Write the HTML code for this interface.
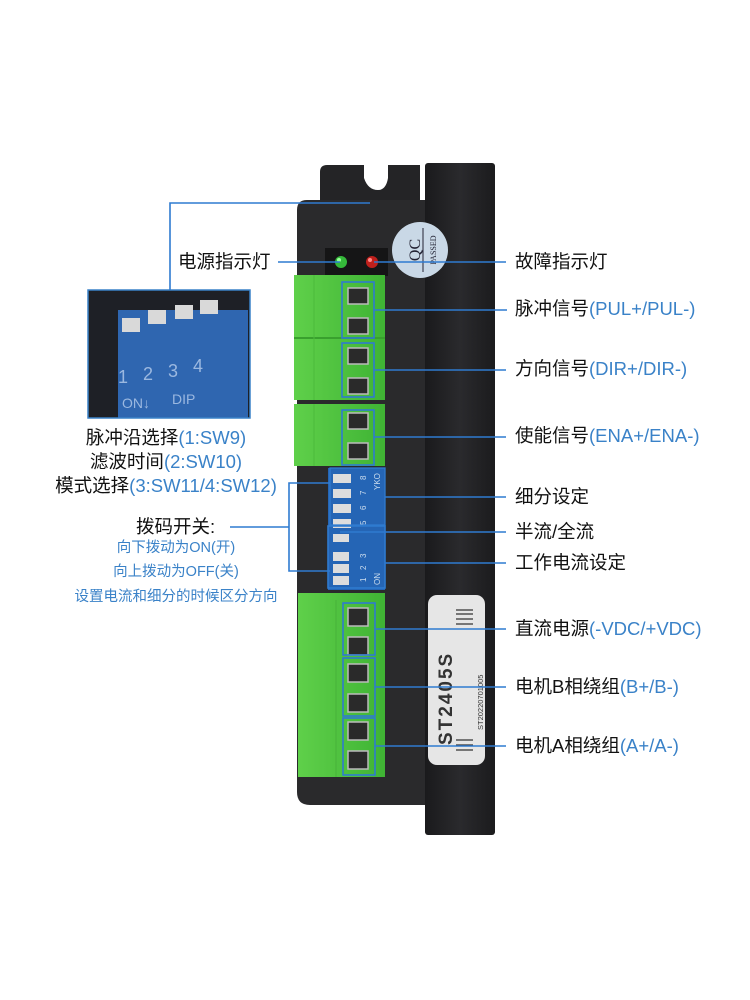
<!DOCTYPE html>
<html><head><meta charset="utf-8"><style>
body{margin:0;width:750px;height:1000px;background:#fff;position:relative;overflow:hidden;font-family:"Liberation Sans","Noto Sans CJK SC",sans-serif;}
.t{position:absolute;font-size:18.5px;color:#111;white-space:nowrap;line-height:22px;}
.c{position:absolute;width:300px;text-align:center;font-size:18.5px;color:#111;white-space:nowrap;line-height:22px;}
.b{color:#3a82c8;}
.s{position:absolute;width:300px;text-align:center;font-size:14.5px;color:#3a82c8;white-space:nowrap;line-height:18px;}
</style></head><body>
<svg width="750" height="1000" style="position:absolute;left:0;top:0">
<defs>
<linearGradient id="side" x1="0" x2="1"><stop offset="0" stop-color="#1a1a1c"/><stop offset="0.5" stop-color="#2a2a2d"/><stop offset="1" stop-color="#1b1b1d"/></linearGradient>
<linearGradient id="grn" x1="0" x2="1"><stop offset="0" stop-color="#5fd04a"/><stop offset="1" stop-color="#3fb334"/></linearGradient>
</defs>
<rect x="425" y="163" width="70" height="672" rx="3" fill="url(#side)"/>
<path d="M320 200 V172 Q320 165 327 165 H364 V178 Q368 190 378 190 Q386 190 388 178 V165 H420 V200 Z" fill="#242426"/>
<path d="M297 210 Q297 200 307 200 H425 V805 H310 Q297 805 297 792 Z" fill="#2a2a2c"/>
<rect x="325" y="248" width="63" height="28" fill="#151516"/>
<circle cx="341" cy="262" r="6" fill="#35b93a"/><circle cx="339" cy="260" r="2" fill="#9f9"/>
<circle cx="372" cy="262" r="6" fill="#c0201c"/><circle cx="370" cy="260" r="2" fill="#f88"/>
<circle cx="420" cy="250" r="28" fill="#c9d8e6"/>
<text transform="translate(420,250) rotate(-90)" font-family="Liberation Serif,serif" font-size="16" text-anchor="middle" fill="#223">QC</text>
<line x1="423" y1="228" x2="423" y2="272" stroke="#223" stroke-width="1"/>
<text transform="translate(436,250) rotate(-90)" font-family="Liberation Serif,serif" font-size="8" text-anchor="middle" fill="#223">PASSED</text>
<rect x="294" y="275" width="91" height="125" fill="url(#grn)"/>
<line x1="294" y1="338" x2="385" y2="338" stroke="#39a02e" stroke-width="2"/>
<line x1="314" y1="275" x2="314" y2="400" stroke="#4bbb3c"/>
<rect x="294" y="404" width="91" height="62" fill="url(#grn)"/>
<line x1="314" y1="404" x2="314" y2="466" stroke="#4bbb3c"/>
<rect x="298" y="593" width="87" height="184" fill="url(#grn)"/>
<line x1="336" y1="600" x2="336" y2="777" stroke="#46b23a"/>
<g fill="#2a2a2a" stroke="#bbb" stroke-width="1.5">
<rect x="348" y="288" width="20" height="16"/><rect x="348" y="318" width="20" height="16"/>
<rect x="348" y="348" width="20" height="16"/><rect x="348" y="378" width="20" height="16"/>
<rect x="348" y="413" width="20" height="16"/><rect x="348" y="443" width="20" height="16"/>
<rect x="348" y="608" width="20" height="18"/><rect x="348" y="637" width="20" height="18"/>
<rect x="348" y="664" width="20" height="18"/><rect x="348" y="694" width="20" height="18"/>
<rect x="348" y="722" width="20" height="18"/><rect x="348" y="751" width="20" height="18"/>
</g>
<rect x="328" y="468" width="57" height="122" fill="#2565b5"/>
<g fill="#ddd"><rect x="333" y="474" width="18" height="9"/><rect x="333" y="489" width="18" height="9"/><rect x="333" y="504" width="18" height="9"/><rect x="333" y="519" width="18" height="9"/><rect x="333" y="534" width="16" height="8"/><rect x="333" y="552" width="16" height="9"/><rect x="333" y="564" width="16" height="9"/><rect x="333" y="576" width="16" height="9"/></g>
<g font-size="8" fill="#cde" font-family="Liberation Sans"><text transform="translate(366,480) rotate(-90)">8</text><text transform="translate(366,495) rotate(-90)">7</text><text transform="translate(366,510) rotate(-90)">6</text><text transform="translate(366,525) rotate(-90)">5</text><text transform="translate(366,558) rotate(-90)">3</text><text transform="translate(366,570) rotate(-90)">2</text><text transform="translate(366,582) rotate(-90)">1</text><text transform="translate(380,490) rotate(-90)">YKO</text><text transform="translate(380,585) rotate(-90)">ON</text></g>
<rect x="428" y="595" width="57" height="170" rx="9" fill="#e6e6e6"/>
<text transform="translate(452,745) rotate(-90)" font-size="19" font-weight="bold" fill="#333" font-family="Liberation Sans" letter-spacing="2">ST2405S</text>
<g stroke="#333" stroke-width="1.3"><line x1="456" y1="610" x2="473" y2="610"/><line x1="456" y1="614" x2="473" y2="614"/><line x1="456" y1="619" x2="473" y2="619"/><line x1="456" y1="624" x2="473" y2="624"/><line x1="456" y1="740" x2="473" y2="740"/><line x1="456" y1="745" x2="473" y2="745"/><line x1="456" y1="750" x2="473" y2="750"/></g>
<text transform="translate(483,730) rotate(-90)" font-size="7.5" fill="#333" font-family="Liberation Sans">ST20220701005</text>
<rect x="88" y="290" width="162" height="128" fill="#1e2026"/>
<rect x="118" y="310" width="130" height="108" fill="#2f66b0"/>
<g fill="#d9d9d9"><rect x="122" y="318" width="18" height="14"/><rect x="148" y="310" width="18" height="14"/><rect x="175" y="305" width="18" height="14"/><rect x="200" y="300" width="18" height="14"/></g>
<g font-size="18" fill="#9bb8e0" font-family="Liberation Sans"><text x="118" y="383">1</text><text x="143" y="380">2</text><text x="168" y="377">3</text><text x="193" y="372">4</text><text x="122" y="408" font-size="14">ON↓</text><text x="172" y="404" font-size="14">DIP</text></g>
<rect x="88" y="290" width="162" height="128" fill="none" stroke="#3a82c8" stroke-width="1.5"/>
<g stroke="#2f7bd0" stroke-width="1.6" fill="none">
<polyline points="170,290 170,203 370,203"/>
<line x1="278" y1="262" x2="340" y2="262"/>
<line x1="374" y1="262" x2="506" y2="262"/>
<rect x="342" y="282" width="32" height="56"/><rect x="342" y="343" width="32" height="54"/>
<rect x="342" y="410" width="32" height="55"/>
<rect x="343" y="603" width="32" height="52"/><rect x="343" y="658" width="32" height="58"/><rect x="343" y="718" width="32" height="57"/>
<rect x="330" y="468" width="55" height="57" stroke-width="1.3"/>
<rect x="328" y="526" width="57" height="62"/>
<line x1="374" y1="310" x2="507" y2="310"/>
<line x1="374" y1="370" x2="506" y2="370"/>
<line x1="374" y1="437" x2="506" y2="437"/>
<line x1="385" y1="497" x2="506" y2="497"/>
<line x1="340" y1="532" x2="506" y2="532"/>
<line x1="385" y1="563" x2="506" y2="563"/>
<line x1="375" y1="629" x2="506" y2="629"/>
<line x1="375" y1="687" x2="506" y2="687"/>
<line x1="375" y1="746" x2="506" y2="746"/>
<polyline points="330,483 289,483 289,571 330,571"/>
<line x1="230" y1="527" x2="289" y2="527"/>
</g>
</svg>
<div class="t" style="left:178px;top:251px">电源指示灯</div>
<div class="t" style="left:515px;top:251px">故障指示灯</div>
<div class="t" style="left:515px;top:298px">脉冲信号<span class="b">(PUL+/PUL-)</span></div>
<div class="t" style="left:515px;top:358px">方向信号<span class="b">(DIR+/DIR-)</span></div>
<div class="t" style="left:515px;top:425px">使能信号<span class="b">(ENA+/ENA-)</span></div>
<div class="t" style="left:515px;top:486px">细分设定</div>
<div class="t" style="left:515px;top:521px">半流/全流</div>
<div class="t" style="left:515px;top:552px">工作电流设定</div>
<div class="t" style="left:515px;top:618px">直流电源<span class="b">(-VDC/+VDC)</span></div>
<div class="t" style="left:515px;top:676px">电机B相绕组<span class="b">(B+/B-)</span></div>
<div class="t" style="left:515px;top:735px">电机A相绕组<span class="b">(A+/A-)</span></div>
<div class="c" style="left:16px;top:427px">脉冲沿选择<span class="b">(1:SW9)</span></div>
<div class="c" style="left:16px;top:451px">滤波时间<span class="b">(2:SW10)</span></div>
<div class="c" style="left:16px;top:475px">模式选择<span class="b">(3:SW11/4:SW12)</span></div>
<div class="t" style="left:136px;top:516px">拨码开关:</div>
<div class="s" style="left:26px;top:539px">向下拨动为ON(开)</div>
<div class="s" style="left:26px;top:563px">向上拨动为OFF(关)</div>
<div class="s" style="left:26px;top:588px">设置电流和细分的时候区分方向</div>
</body></html>
